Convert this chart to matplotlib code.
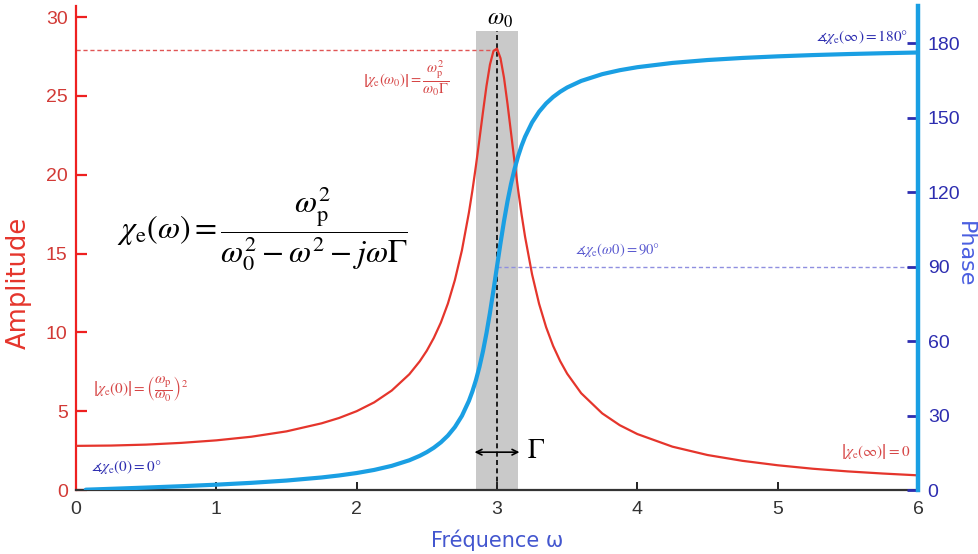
import matplotlib
matplotlib.use("Agg")
import matplotlib.pyplot as plt

plt.rcParams['font.family'] = ['Liberation Sans', 'DejaVu Sans']
plt.rcParams['mathtext.fontset'] = 'stix'

# Amplitude curve
omega_amp = [0.0, 0.25, 0.5, 0.75, 1.0, 1.25, 1.5, 1.75, 1.875, 2.0, 2.125, 2.25, 2.375, 2.45, 2.5,
             2.55, 2.6, 2.65, 2.7, 2.75, 2.8, 2.825, 2.85, 2.875, 2.9, 2.925, 2.95, 2.975, 3.0,
             3.025, 3.05, 3.075, 3.1, 3.125, 3.15, 3.175, 3.2, 3.25, 3.3, 3.35, 3.4, 3.45, 3.5,
             3.6, 3.75, 3.875, 4.0, 4.25, 4.5, 4.75, 5.0, 5.25, 5.5, 5.75, 6.0]
amplitude = [2.80, 2.82, 2.88, 2.99, 3.15, 3.38, 3.72, 4.23, 4.57, 5.00, 5.56, 6.31, 7.34, 8.17, 8.84,
             9.65, 10.62, 11.82, 13.32, 15.20, 17.60, 19.01, 20.57, 22.25, 23.97, 25.62, 26.99, 27.85, 28.0,
             27.39, 26.15, 24.49, 22.66, 20.82, 19.08, 17.49, 16.07, 13.68, 11.81, 10.33, 9.14, 8.18, 7.38,
             6.14, 4.86, 4.11, 3.55, 2.75, 2.22, 1.85, 1.57, 1.35, 1.18, 1.045, 0.93]

# Phase curve (degrees)
omega_ph = [0.07, 0.25, 0.5, 0.75, 1.0, 1.25, 1.5, 1.75, 1.875, 2.0, 2.125, 2.25, 2.375, 2.45, 2.5,
            2.55, 2.6, 2.65, 2.7, 2.75, 2.8, 2.825, 2.85, 2.875, 2.9, 2.925, 2.95, 2.975, 3.0,
            3.025, 3.05, 3.075, 3.1, 3.125, 3.15, 3.175, 3.2, 3.25, 3.3, 3.35, 3.4, 3.45, 3.5,
            3.6, 3.75, 3.875, 4.0, 4.25, 4.5, 4.75, 5.0, 5.25, 5.5, 5.75, 6.0]
phase = [0.13, 0.48, 0.98, 1.53, 2.15, 2.89, 3.81, 5.05, 5.86, 6.84, 8.09, 9.73, 11.97, 13.78, 15.26,
         17.03, 19.20, 21.90, 25.35, 29.85, 35.91, 39.74, 44.26, 49.59, 55.85, 63.14, 71.41, 80.50, 90.0,
         99.42, 108.30, 116.29, 123.26, 129.24, 134.31, 138.61, 142.25, 148.04, 152.35, 155.67, 158.28, 160.37, 162.10,
         164.74, 167.47, 169.06, 170.27, 171.99, 173.16, 174.00, 174.64, 175.15, 175.56, 175.90, 176.19]

x_ticks = [0, 1, 2, 3, 4, 5, 6]
amp_ticks = [0, 5, 10, 15, 20, 25, 30]
phase_ticks = [0, 30, 60, 90, 120, 150, 180]

omega0 = 3.0
gamma_lo, gamma_hi = 2.85, 3.15
peak_amp = 27.9
band_top = 29.1

RED = '#e5352c'
RED_T = '#d23a36'
BLUE = '#1a9fe3'
DBLUE = '#2d2db0'

fig = plt.figure(figsize=(9.79, 5.54), dpi=100)
ax = fig.add_axes([0.0776, 0.1155, 0.8601, 0.8736])
ax2 = ax.twinx()

# band and guides
ax.fill_between([gamma_lo, gamma_hi], 0, band_top, color='#c9c9c9', lw=0, zorder=0)
ax.plot([omega0, omega0], [0, band_top], color='black', lw=1.2, ls=(0, (3, 2)), zorder=1)
ax.plot([0, omega0], [peak_amp, peak_amp], color='#e05555', lw=1.0, ls=(0, (3, 2)), zorder=1)
ax2.plot([omega0, 6], [90, 90], color='#8f8fe0', lw=1.0, ls=(0, (3, 2)), zorder=1)

ax.plot(omega_amp, amplitude, color=RED, lw=1.6, zorder=3)
ax2.plot(omega_ph, phase, color=BLUE, lw=3.0, zorder=3, solid_capstyle='round')

ax.set_xlim(0, 6)
ax.set_ylim(0, 30.7)
ax2.set_ylim(0, 194.9)

ax.set_xticks(x_ticks)
ax.set_xticklabels([str(t) for t in x_ticks])
ax.set_yticks(amp_ticks)
ax.set_yticklabels([str(t) for t in amp_ticks])
ax2.set_yticks(phase_ticks)
ax2.set_yticklabels([str(t) for t in phase_ticks])

for s in ['top', 'right']:
    ax.spines[s].set_visible(False)
for s in ['top', 'left', 'bottom']:
    ax2.spines[s].set_visible(False)
ax.spines['left'].set_color('#ee2020')
ax.spines['left'].set_linewidth(1.6)
ax.spines['bottom'].set_color('#333333')
ax.spines['bottom'].set_linewidth(1.6)
ax2.spines['right'].set_color(BLUE)
ax2.spines['right'].set_linewidth(3.2)

ax.tick_params(axis='x', direction='in', length=6, width=1.4, color='#222222',
               labelcolor='#333333', labelsize=14, pad=8)
ax.tick_params(axis='y', direction='in', length=8, width=1.6, color='#ee2020',
               labelcolor=RED_T, labelsize=14, pad=6)
ax2.tick_params(axis='y', direction='in', length=8, width=2.0, color=DBLUE,
                labelcolor=DBLUE, labelsize=14, pad=7)

ax.set_xlabel('Fréquence ω', color='#4356cf', fontsize=15, family=['DejaVu Sans'], labelpad=8)
fig.text(19 / 979, 1 - 283 / 554, 'Amplitude', color='#e5352c', fontsize=18.5,
         family=['DejaVu Sans'], rotation=90, ha='center', va='center')
fig.text(965 / 979, 1 - 254 / 554, 'Phase', color='#4a5ee0', fontsize=16,
         family=['DejaVu Sans'], rotation=-90, ha='center', va='center')

# annotations
ax.text(1.33, 16.6, r'$\chi_{\mathrm{e}}\left(\omega\right) = \dfrac{\omega_{\mathrm{p}}^{2}}{\omega_0^{2} - \omega^{2} - j\omega\Gamma}$',
        fontsize=23, ha='center', va='center', color='black')
ax.text(3.02, 29.9, r'$\omega_0$', fontsize=17, ha='center', va='center', color='black')
ax.annotate('', xy=(gamma_lo - 0.01, 2.4), xytext=(gamma_hi + 0.01, 2.4),
            arrowprops=dict(arrowstyle='<->', color='black', lw=1.2, shrinkA=0, shrinkB=0))
ax.text(3.28, 2.45, r'$\Gamma$', fontsize=20, ha='center', va='center', color='black')

ax.text(2.35, 26.1, r'$\left|\chi_{\mathrm{e}}\left(\omega_0\right)\right| = \dfrac{\omega_{\mathrm{p}}^{2}}{\omega_0\Gamma}$',
        fontsize=10.5, ha='center', va='center', color='#d64545')
ax.text(0.46, 6.4, r'$\left|\chi_{\mathrm{e}}\left(0\right)\right| = \left(\dfrac{\omega_{\mathrm{p}}}{\omega_0}\right)^{2}$',
        fontsize=11, ha='center', va='center', color='#d64545')
ax.text(5.70, 2.45, r'$\left|\chi_{\mathrm{e}}\left(\infty\right)\right| = 0$',
        fontsize=11, ha='center', va='center', color='#d64545')
ax.text(0.36, 1.45, r'$\measuredangle\chi_{\mathrm{e}}\left(0\right) = 0°$',
        fontsize=11, ha='center', va='center', color='#2d2db0')
ax.text(3.86, 15.2, r'$\measuredangle\chi_{\mathrm{e}}(\omega0) = 90°$',
        fontsize=10.5, ha='center', va='center', color='#5a5ad0')
ax.text(5.60, 28.75, r'$\measuredangle\chi_{\mathrm{e}}\left(\infty\right) = 180°$',
        fontsize=11, ha='center', va='center', color='#2d2db0')

fig.savefig('out.png', dpi=100)
